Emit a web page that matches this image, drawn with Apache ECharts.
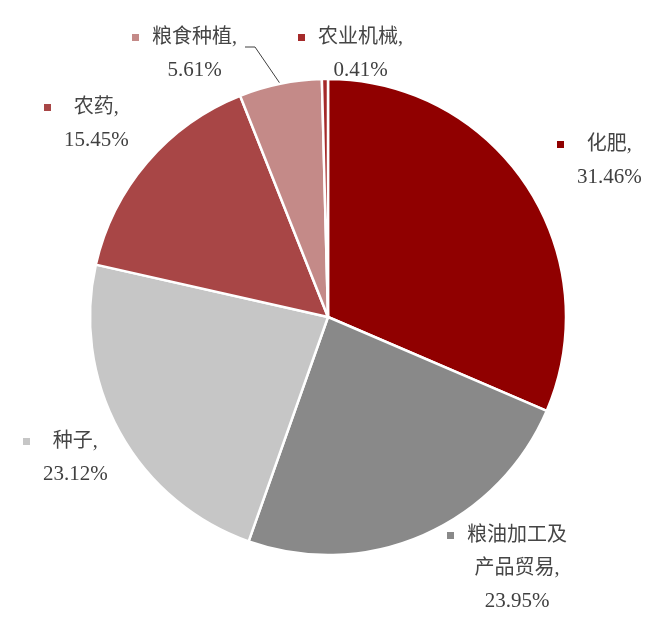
<!DOCTYPE html>
<html>
<head>
<meta charset="utf-8">
<title>pie</title>
<script src="https://cdn.jsdelivr.net/npm/echarts@6/dist/echarts.min.js"></script>
<style>
    html, body { margin: 0; padding: 0; background: #fff; }
    #main { width: 660px; height: 623px; }
</style>
</head>
<body>
<div id="main"></div>
<script>
// 数据
var names = ["化肥", "粮油加工及\n产品贸易", "种子", "农药", "粮食种植", "农业机械"];
var values = [31.46, 23.95, 23.12, 15.45, 5.61, 0.41];
var colors = ["#900000", "#898989", "#c6c6c6", "#a84646", "#c48a88", "#a52a2a"];

// 标签位置(标记左上角)
var labelPos = [[557, 128], [447, 519], [23, 425], [44, 91], [132, 21], [298, 21]];

var chart = echarts.init(document.getElementById("main"));

var rich = {
    g: {width: 13, height: 8, align: "left", lineHeight: 33},
    sp: {width: 7, height: 7, align: "left", lineHeight: 33},
    t: {align: "center", lineHeight: 33, fontSize: 20, color: "#454545",
        fontFamily: "'Liberation Serif', 'Noto Sans CJK SC', serif"},
    n: {align: "center", lineHeight: 33, fontSize: 21, color: "#404040",
        fontFamily: "'Liberation Serif', serif"}
};
colors.forEach(function (c, i) {
    rich["mk" + i] = {width: 7, height: 7, backgroundColor: c, align: "left",
        verticalAlign: "middle", lineHeight: 33};
});

var data = names.map(function (n, i) {
    var item = {name: n, value: values[i], itemStyle: {color: colors[i]}};
    if (i === 4) {
        item.labelLine = {show: true, lineStyle: {color: "#404040", width: 1}};
    }
    return item;
});

chart.setOption({
    backgroundColor: "#fff",
    animation: false,
    series: [{
        type: "pie",
        center: [328, 317],
        radius: 238,
        startAngle: 90,
        clockwise: true,
        avoidLabelOverlap: false,
        itemStyle: {borderColor: "#fff", borderWidth: 2.5},
        label: {
            show: true,
            position: "outside",
            formatter: function (p) {
                var lines = p.name.split("\n");
                lines[lines.length - 1] += ",";
                var out = lines.map(function (l, k) {
                    return (k === 0 ? "{mk" + p.dataIndex + "|}" : "{sp|}") + "{g|}{t|" + l + "}";
                });
                out.push("{sp|}{g|}{n|" + p.value.toFixed(2) + "%}");
                return out.join("\n");
            },
            rich: rich
        },
        labelLine: {show: false},
        labelLayout: function (params) {
            var pos = labelPos[params.dataIndex];
            var res = {x: pos[0], y: pos[1], align: "left", verticalAlign: "top"};
            if (params.dataIndex === 4 && params.labelLinePoints) {
                var start = params.labelLinePoints[0];
                var right = pos[0] + 113;
                res.labelLinePoints = [start, [right + 10, pos[1] + 26], [right, pos[1] + 26]];
            }
            return res;
        },
        data: data
    }]
});
</script>
</body>
</html>
